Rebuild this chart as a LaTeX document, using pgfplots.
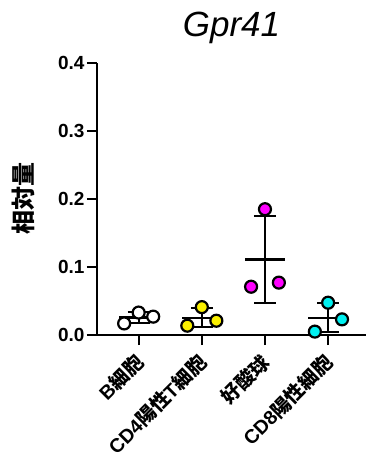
\documentclass[border=0pt]{standalone}
\usepackage{pgfplots}
\pgfplotsset{compat=1.18}
\usepackage{fontspec}
\setmainfont{Liberation Sans}
\newfontfamily\cjk{Noto Sans CJK JP}
\definecolor{cyel}{RGB}{250,240,0}
\definecolor{cmag}{RGB}{255,0,255}
\definecolor{ccya}{RGB}{0,240,240}
\begin{document}
\begin{tikzpicture}
\begin{axis}[
  scale only axis, width=269pt, height=272pt,
  xmin=-0.66, xmax=3.6, ymin=0, ymax=0.4,
  axis x line=bottom, axis y line=left,
  axis line style={line width=2.5pt, -},
  tick style={line width=2pt, black},
  major tick length=10pt, tick align=outside,
  /pgf/number format/assume math mode=true,
  ytick={0,0.1,0.2,0.3,0.4},
  yticklabels={0.0,0.1,0.2,0.3,0.4},
  yticklabel style={font=\fontsize{19}{19}\selectfont\bfseries, xshift=1pt},
  xtick={0,1,2,3},
  xticklabels={B{\cjk 細胞}, CD4{\cjk 陽性}T{\cjk 細胞}, {\cjk 好酸球}, CD8{\cjk 陽性細胞}},
  xticklabel style={font=\fontsize{19.5}{19.5}\selectfont\bfseries, rotate=45, anchor=north east, inner sep=2pt, xshift=-7pt, yshift=1pt},
  ylabel={\cjk\bfseries 相対量},
  ylabel style={at={(axis description cs:-0.275,0.5)}, anchor=center, font=\fontsize{24}{24}\selectfont},
  title={\itshape Gpr41},
  title style={at={(axis description cs:0.5,1)}, anchor=base, yshift=20pt, font=\fontsize{35}{35}\selectfont},
  clip=false,
]
% mean and SD
\addplot[only marks, black, mark=-, mark size=20pt, mark options={line width=2.5pt},
  error bars/.cd, y dir=both, y explicit, error mark=|,
  error bar style={line width=2pt, black},
  error mark options={mark size=11pt, line width=2pt, black}]
  coordinates {
  (0,0.0257) +- (0,0.0081)
  (1,0.0252) +- (0,0.0141)
  (2,0.111) +- (0,0.064)
  (3,0.0252) +- (0,0.0213)
  };
\addplot[only marks, mark=*, mark size=6pt, mark options={draw=black, fill=white, line width=2.2pt}]
  coordinates {(-0.23,0.017) (0,0.033) (0.23,0.027)};
\addplot[only marks, mark=*, mark size=6pt, mark options={draw=black, fill=cyel, line width=2.2pt}]
  coordinates {(0.77,0.0137) (1,0.041) (1.23,0.021)};
\addplot[only marks, mark=*, mark size=6pt, mark options={draw=black, fill=cmag, line width=2.2pt}]
  coordinates {(1.78,0.071) (2,0.185) (2.22,0.077)};
\addplot[only marks, mark=*, mark size=6pt, mark options={draw=black, fill=ccya, line width=2.2pt}]
  coordinates {(2.79,0.005) (3,0.0475) (3.22,0.023)};
\end{axis}
\pgfresetboundingbox
\path[use as bounding box] (-97pt,-127pt) rectangle (269pt,335pt);
\end{tikzpicture}
\end{document}
